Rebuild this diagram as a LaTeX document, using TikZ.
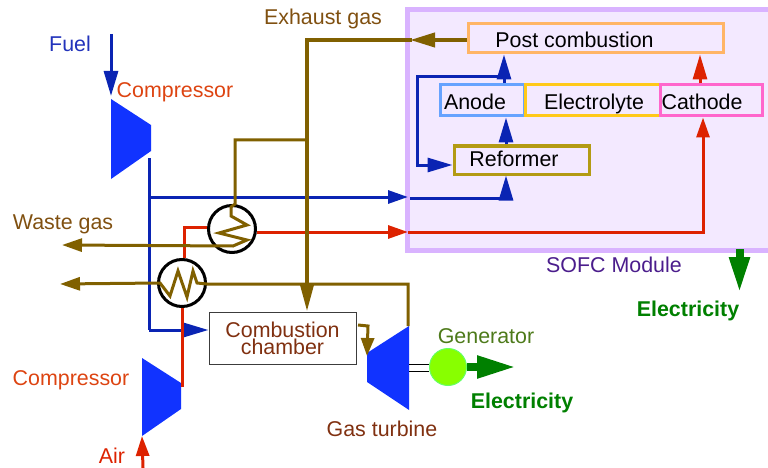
\documentclass[tikz,border=0pt]{standalone}
\usepackage{fontspec}
\setmainfont{Liberation Sans}
\usetikzlibrary{arrows.meta}
\definecolor{bluepipe}{HTML}{0A24B3}
\definecolor{redpipe}{HTML}{DD2200}
\definecolor{brownpipe}{HTML}{806000}
\definecolor{machine}{HTML}{1133FF}
\definecolor{powergreen}{HTML}{008000}
\tikzset{
  every node/.style={font=\fontsize{21.4}{15}\selectfont},
  partbox/.style={draw,line width=3pt,minimum height=#1,inner sep=0pt,text height=21.5pt,text depth=4pt},
  hxring/.style={circle,draw=black,fill=white,line width=3pt,minimum size=47pt,inner sep=0pt},
  fuelline/.style={draw=bluepipe,line width=3pt},
  airline/.style={draw=redpipe,line width=3pt},
  gasline/.style={draw=brownpipe,line width=3pt},
  headA/.style={-{Triangle[length=25pt,width=14pt]}},
  headB/.style={-{Triangle[length=20pt,width=13pt]}},
  powerarrow/.style={draw=powergreen,line width=8pt},
  powerlabel/.style={text=powergreen,font=\fontsize{21.4}{15}\selectfont\bfseries}
}
\begin{document}
\begin{tikzpicture}[x=1pt,y=-1pt]
\useasboundingbox (0,0) rectangle (768,468);
\fill[draw={rgb,255:red,217;green,179;blue,255},line width=5pt,fill={rgb,255:red,243;green,233;blue,255}] (407.5,9.5) rectangle (790,250.5);
\node[text={rgb,255:red,75;green,29;blue,140}] (modulelabel) at (614,265) {SOFC Module};
\node[partbox=29pt,draw={rgb,255:red,255;green,181;blue,102},minimum width=255pt] (post) at (595.5,38.5) {Post combustion\hspace*{42pt}};
\node[partbox=31pt,draw={rgb,255:red,102;green,163;blue,255},minimum width=84pt] (anode) at (482,100.5) {Anode\hspace*{14pt}};
\node[partbox=31pt,draw={rgb,255:red,255;green,201;blue,26},minimum width=135pt] (electrolyte) at (592.5,100.5) {\hspace*{3pt}Electrolyte};
\node[partbox=31pt,draw={rgb,255:red,255;green,102;blue,204},minimum width=102pt] (cathode) at (711,100.5) {Cathode\hspace*{18pt}};
\node[partbox=28pt,text height=17pt,draw={rgb,255:red,179;green,155;blue,20},minimum width=135pt] (reformer) at (521.5,160) {Reformer\hspace*{15pt}};
\node[draw={rgb,255:red,60;green,60;blue,60},line width=1pt,minimum width=147pt,minimum height=52pt,inner sep=0pt,align=center,text={rgb,255:red,128;green,48;blue,16}] (chamber) at (282.5,338) {Combustion\\chamber};
\fill[machine] (111,99)--(151,125)--(151,151)--(111,179)--cycle;
\fill[machine] (142,358)--(181,383)--(181,409)--(142,436)--cycle;
\fill[machine] (367,353)--(409,326)--(409,410)--(367,382)--cycle;
\coordinate (fuelin) at (111,34);
\coordinate (fuelcomp) at (111,96);
\coordinate (fuelout) at (149,158);
\coordinate (fueltee) at (149,197);
\coordinate (fuelcorner) at (149,330);
\coordinate (modulefuel) at (408,197);
\coordinate (fuelstart) at (410,198);
\coordinate (fuelturn) at (506,198);
\coordinate (bypassA) at (504,77);
\coordinate (bypassB) at (417,77);
\coordinate (bypassC) at (417,165);
\draw[fuelline,headA] (fuelin)--(fuelcomp);
\draw[fuelline] (fuelout)--(fuelcorner);
\draw[fuelline,headA] (fuelcorner)--(chamber.west|-fuelcorner);
\draw[fuelline,headB] (fueltee)--(modulefuel);
\draw[fuelline,headA] (fuelstart)--(fuelturn)--(reformer.south-|fuelturn);
\draw[fuelline,headA] (anode.north-|bypassA)--(post.south-|bypassA);
\draw[fuelline,headA] (bypassA)--(bypassB)--(bypassC)--(bypassC-|reformer.west);
\draw[fuelline,headA] (reformer.north-|fuelturn)--(anode.south-|fuelturn);
\node[hxring] (hxtop) at (232,229) {};
\node[hxring] (hxlow) at (182,283) {};
\coordinate (airin) at (143,468);
\coordinate (aircomp) at (142,436);
\coordinate (airout) at (182,387);
\coordinate (airup) at (184,227);
\coordinate (airmodule) at (408,232);
\coordinate (airturn) at (703,232);
\coordinate (airexit) at (700,70);
\draw[airline,headB] (airin)--(aircomp);
\draw[airline] (airout)--(hxlow.south);
\draw[airline] (hxlow.north-|airup)--(airup)--(airup-|hxtop.west);
\draw[airline,headB] (hxtop.east|-airmodule)--(airmodule);
\draw[airline,headB] (airmodule)--(airturn)--(cathode.south-|airturn);
\draw[airline,headA] (cathode.north-|airexit)--(post.south-|airexit);
\coordinate (wasteA) at (62,245);
\coordinate (wasteB) at (60,284);
\coordinate (exhausttop) at (307,40);
\coordinate (exhausttee) at (307,140);
\coordinate (branch) at (235,140);
\coordinate (turbineup) at (408,326);
\coordinate (turbinein) at (367,356);
\coordinate (chamberout) at (358,325);
\coordinate (chamberturn) at (368,326);
\draw[gasline,line width=4pt,headA] (post.west|-exhausttop)--(410,40);
\draw[gasline,line width=4pt,-{Triangle[length=27pt,width=13pt]}] (412,40)--(exhausttop)--(chamber.north-|exhausttop);
\draw[gasline,headB] (exhausttee)--(branch)--(hxtop.north-|branch)--(231,207)--(231,216)--(247,225)--(219,233)--(247,240)--(233,246)--(wasteA);
\draw[gasline,headB] (turbineup)--(408,284)--(207,284)--(197,283)--(193,271)--(187,297)--(178,271)--(170,296)--(160,283)--(wasteB);
\draw[gasline,-{Triangle[length=18pt,width=13pt]}] (chamberout)--(chamberturn)--(turbinein);
\node[circle,fill={rgb,255:red,136;green,255;blue,0},draw={rgb,255:red,102;green,255;blue,102},line width=1pt,minimum size=37pt,inner sep=0pt] (generator) at (448,367) {};
\coordinate (powerend) at (516,367);
\draw[line width=1pt] (409,364)--(generator.west|-409,364);
\draw[line width=1pt] (409,371)--(generator.west|-409,371);
\draw[powerarrow,-{Triangle[length=39pt,width=21pt]}] (generator.east)--(powerend);
\coordinate (modulepower) at (739.5,249);
\coordinate (moduleend) at (739.5,293);
\draw[powerarrow,-{Triangle[length=36pt,width=19pt]}] (modulepower)--(moduleend);
\node[text={rgb,255:red,34;green,51;blue,187}] (fuellabel) at (70,44) {Fuel};
\node[text={rgb,255:red,221;green,68;blue,17}] (compA) at (175,92) {Compressor};
\node[text={rgb,255:red,221;green,68;blue,17}] (compB) at (71,380.5) {Compressor};
\node[text={rgb,255:red,128;green,80;blue,16}] (exhaustlabel) at (323,18.5) {Exhaust gas};
\node[text={rgb,255:red,128;green,80;blue,16}] (wastelabel) at (63,224) {Waste gas};
\node[text=redpipe] (airlabel) at (112,456) {Air};
\node[text={rgb,255:red,128;green,48;blue,16}] (turbinelabel) at (382,429) {Gas turbine};
\node[text={rgb,255:red,77;green,122;blue,26}] (generatorlabel) at (486,336) {Generator};
\node[powerlabel] (powerA) at (522,403) {Electricity};
\node[powerlabel] (powerB) at (688,311) {Electricity};
\end{tikzpicture}
\end{document}
